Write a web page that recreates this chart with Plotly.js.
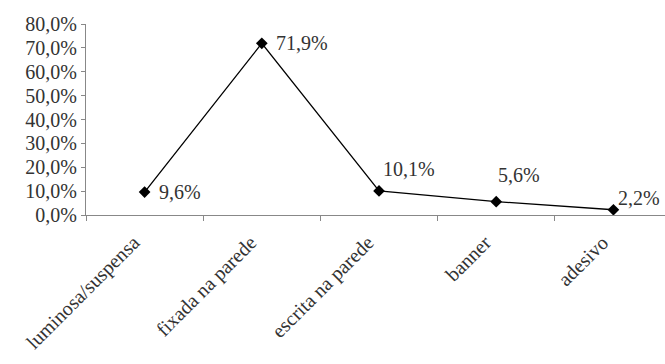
<!DOCTYPE html>
<html>
<head>
<meta charset="utf-8">
<script src="https://cdn.plot.ly/plotly-3.0.1.min.js"></script>
<style>
  html, body { margin: 0; padding: 0; background: #fff; overflow: hidden; }
  #chart { width: 665px; height: 364px; }
</style>
</head>
<body>
<div id="chart"></div>
<script>
// Types of signage and their share of responses (%)
const categories = ['luminosa/suspensa', 'fixada na parede', 'escrita na parede', 'banner', 'adesivo'];
const shares = [9.6, 71.9, 10.1, 5.6, 2.2];
const yTicks = [0, 10, 20, 30, 40, 50, 60, 70, 80];

// Label offsets (px) for each value label
const labelShiftX = [12, 12, 2, 0, 3];
const labelShiftY = [0, 0, 22, 27, 12];

const fmt = v => v.toFixed(1).replace('.', ',') + '%';

const serif = 'Liberation Serif, serif';

const trace = {
  type: 'scatter',
  mode: 'lines+markers',
  x: categories,
  y: shares,
  line: { color: '#000', width: 1.3 },
  marker: { symbol: 'diamond', size: 9, color: '#000' },
  hoverinfo: 'skip'
};

const annotations = categories.map((c, i) => ({
  x: c,
  y: shares[i],
  xref: 'x',
  yref: 'y',
  text: fmt(shares[i]),
  showarrow: false,
  xanchor: 'left',
  yanchor: 'middle',
  xshift: labelShiftX[i],
  yshift: labelShiftY[i],
  font: { family: serif, size: 20, color: '#333' }
}));

const layout = {
  width: 665,
  height: 364,
  margin: { l: 86, r: 0, t: 24, b: 149, pad: 0 },
  paper_bgcolor: '#fff',
  plot_bgcolor: '#fff',
  showlegend: false,
  separators: ', ',
  font: { family: serif, size: 20, color: '#333' },
  xaxis: {
    type: 'category',
    range: [-0.5, 4.44],
    tickson: 'boundaries',
    ticks: 'outside',
    ticklen: 5,
    tickcolor: '#888',
    showline: true,
    linecolor: '#888',
    linewidth: 1,
    showgrid: false,
    zeroline: false,
    tickangle: -45,
    ticklabelstandoff: 7,
    ticklabelshift: -11,
    tickfont: { family: serif, size: 20, color: '#333' }
  },
  yaxis: {
    range: [0, 80],
    tickvals: yTicks,
    ticktext: yTicks.map(fmt),
    ticks: 'outside',
    ticklen: 4,
    tickcolor: '#888',
    showline: true,
    linecolor: '#888',
    linewidth: 1,
    showgrid: false,
    zeroline: false,
    tickfont: { family: serif, size: 20, color: '#333' }
  },
  annotations: annotations
};

Plotly.newPlot('chart', [trace], layout, { displayModeBar: false, staticPlot: true });
</script>
</body>
</html>
